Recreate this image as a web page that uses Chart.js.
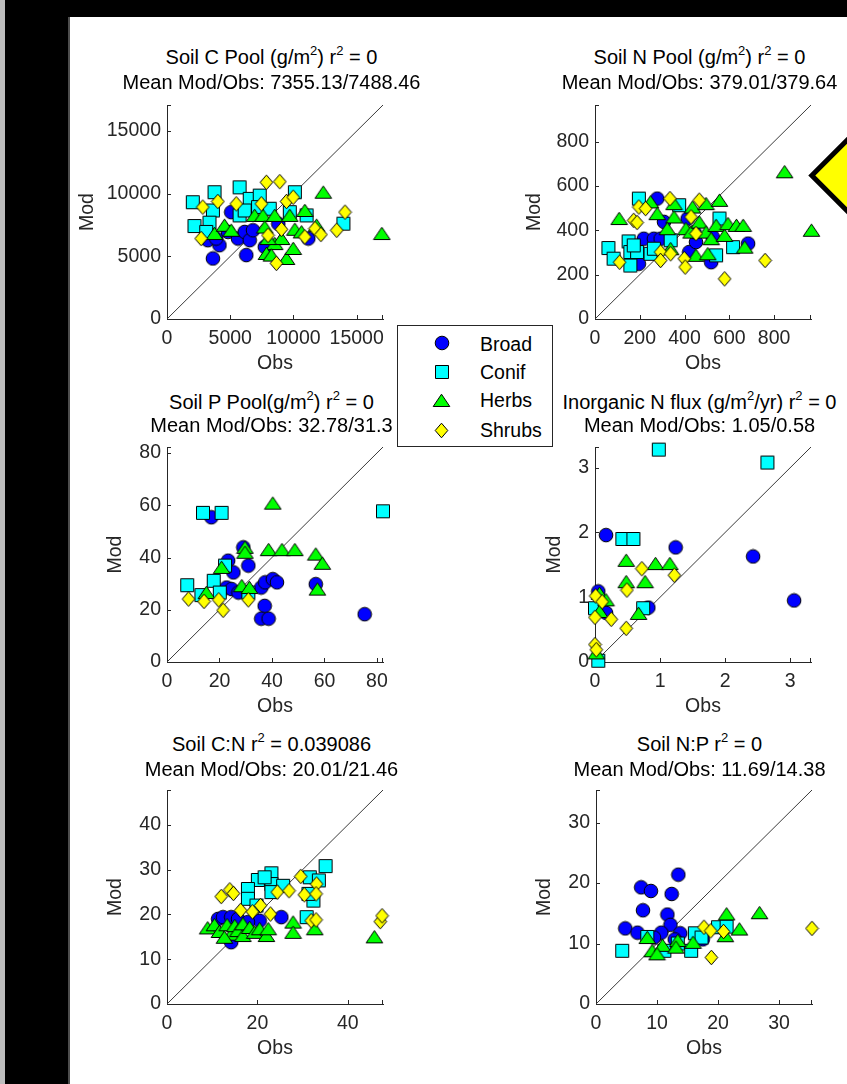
<!DOCTYPE html>
<html>
<head>
<meta charset="utf-8">
<title>Model vs observation: soil pools and ratios</title>
<script src="https://cdn.jsdelivr.net/npm/chart.js@4.4.1/dist/chart.umd.min.js"></script>
<style>
  html, body { margin:0; padding:0; }
  body { width:847px; height:1084px; background:#000; position:relative; overflow:hidden; font-family:"Liberation Sans", Arial, sans-serif; }
  #strip { position:absolute; left:0; top:0; width:5px; height:1084px; background:#bdbdbd; }
  #panel { position:absolute; left:68px; top:17px; width:779px; height:1067px; background:#fff; border-left:2px solid #4d4d4d; box-sizing:border-box; }
  canvas.plot { position:absolute; z-index:2; }
  .ttl { position:absolute; font-size:20px; line-height:24px; white-space:nowrap; color:#000; transform:translateX(-50%); z-index:3; }
  .ttl .s { position:relative; top:-9px; font-size:13px; }
  #legend { position:absolute; left:397px; top:325px; width:156px; height:122px; box-sizing:border-box; border:1px solid #262626; background:#fff; z-index:5; }
  #legend .lbl { position:absolute; left:82px; font-size:19.5px; line-height:24px; color:#000; white-space:nowrap; }
  #legend canvas { position:absolute; }
  #bigmark { position:absolute; left:780px; top:80px; z-index:4; }
</style>
</head>
<body>
<div id="strip"></div>
<div id="panel"></div>

<div class="ttl" style="left:271.5px;top:45px">Soil C Pool (g/m<span class="s">2</span>) r<span class="s">2</span> = 0</div>
<div class="ttl" style="left:271.5px;top:69.7px">Mean Mod/Obs: 7355.13/7488.46</div>
<div class="ttl" style="left:699.5px;top:45px">Soil N Pool (g/m<span class="s">2</span>) r<span class="s">2</span> = 0</div>
<div class="ttl" style="left:699.5px;top:69.7px">Mean Mod/Obs: 379.01/379.64</div>
<div class="ttl" style="left:271.5px;top:389.5px">Soil P Pool(g/m<span class="s">2</span>) r<span class="s">2</span> = 0</div>
<div class="ttl" style="left:271.5px;top:412.6px">Mean Mod/Obs: 32.78/31.3</div>
<div class="ttl" style="left:699.5px;top:389.5px">Inorganic N flux (g/m<span class="s">2</span>/yr) r<span class="s">2</span> = 0</div>
<div class="ttl" style="left:699.5px;top:412.6px">Mean Mod/Obs: 1.05/0.58</div>
<div class="ttl" style="left:271.5px;top:731.5px">Soil C:N r<span class="s">2</span> = 0.039086</div>
<div class="ttl" style="left:271.5px;top:756.5px">Mean Mod/Obs: 20.01/21.46</div>
<div class="ttl" style="left:699.5px;top:731.5px">Soil N:P r<span class="s">2</span> = 0</div>
<div class="ttl" style="left:699.5px;top:756.5px">Mean Mod/Obs: 11.69/14.38</div>

<div id="legend"></div>

<svg id="bigmark" width="67" height="200">
  <polygon points="31.8,95.5 101.8,25.5 171.8,95.5 101.8,165.5" fill="#ffff00" stroke="#000" stroke-width="5" stroke-linejoin="miter"/>
</svg>

<script>
// ---------- categories ----------
const groups = ['Broad', 'Conif', 'Herbs', 'Shrubs'];

// ---------- Soil C Pool (g/m2): [Obs, Mod] ----------
const soilC_Broad  = [[3630,4830],[3230,6290],[4150,5890],[3890,6420],[4820,6950],[5080,8530],[5610,6420],[6270,5100],[6140,6950],[6540,6290],[6800,7080],[7730,5760],[11170,6420],[8800,7600]];
const soilC_Conif  = [[2040,9320],[2170,7420],[3760,10120],[3630,8660],[3360,7690],[3100,6950],[5740,10510],[5740,8270],[6540,9590],[6140,8660],[7330,9850],[7200,8930],[8120,8800],[10110,10120],[9710,8530],[11040,8270],[13950,7610]];
const soilC_Herbs  = [[3760,6820],[4550,7480],[5080,7080],[6930,8270],[7590,8270],[7730,7340],[8520,8270],[8520,6020],[9050,6420],[7860,5230],[8250,5100],[9450,4830],[9710,8270],[10110,7160],[9980,5630],[10900,8660],[10640,6950],[11830,7480],[12360,10120],[16990,6820],[7990,6420]];
const soilC_Shrubs = [[2830,8930],[2700,6420],[4020,9380],[5480,9190],[7460,9190],[7860,10910],[8920,10960],[7990,6680],[9050,7160],[8650,4440],[9450,9380],[9980,9720],[10900,6550],[11700,7210],[12170,6740],[13420,7080],[14080,8530]];
const soilC_ticks  = [0, 5000, 10000, 15000];

// ---------- Soil N Pool (g/m2) ----------
const soilN_Broad  = [[278,543],[218,362],[263,362],[293,362],[308,438],[196,249],[414,453],[421,302],[451,347],[519,256],[526,370],[684,340],[444,392]];
const soilN_Conif  = [[60,320],[83,272],[150,350],[158,302],[158,241],[188,302],[196,543],[248,294],[263,317],[338,355],[376,513],[556,453],[541,287],[617,324],[173,332]];
const soilN_Herbs  = [[108,453],[248,528],[278,475],[353,520],[353,460],[323,407],[406,407],[429,392],[436,505],[466,437],[451,287],[496,520],[504,294],[496,392],[519,362],[556,535],[541,422],[579,377],[594,430],[632,422],[662,422],[669,324],[847,664],[967,400],[338,317]];
const soilN_Shrubs = [[110,256],[173,445],[188,435],[196,505],[226,498],[293,302],[293,264],[338,294],[335,543],[399,272],[403,234],[429,460],[451,385],[466,536],[579,181],[760,264]];
const soilN_ticks  = [0, 200, 400, 600, 800];

// ---------- Soil P Pool (g/m2) ----------
const soilP_Broad  = [[16.9,55.4],[23.3,38.8],[25.3,34.3],[22.7,28.5],[24.6,27.9],[27.2,26.6],[29.1,43.9],[31.0,36.9],[35.9,28.5],[37.4,30.5],[40.3,31.7],[41.9,30.5],[37.2,21.5],[35.9,16.6],[38.7,16.6],[56.7,29.8],[75.3,18.3]];
const soilP_Conif  = [[7.7,29.4],[13.7,57.1],[20.8,57.1],[17.8,31.1],[13.1,25.6],[20.1,26.6],[22.1,36.9],[31.0,26.6],[82.3,57.7]];
const soilP_Herbs  = [[15.0,26.6],[20.8,36.2],[29.7,43.9],[29.7,42.0],[28.5,29.2],[31.4,28.5],[40.3,60.8],[38.7,43.0],[43.8,43.0],[48.7,43.0],[56.7,41.3],[59.2,37.8],[57.3,27.9]];
const soilP_Shrubs = [[8.2,24.1],[14.1,23.2],[19.7,23.8],[21.4,19.8],[31.0,23.8]];
const soilP_ticks  = [0, 20, 40, 60, 80];

// ---------- Inorganic N flux (g/m2/yr) ----------
const inorgN_Broad  = [[0.17,1.96],[1.24,1.77],[2.43,1.63],[3.06,0.95],[0.05,1.09],[0.17,0.76],[0.82,0.84]];
const inorgN_Conif  = [[0.98,3.28],[2.65,3.08],[0.42,1.90],[0.59,1.90],[0.0,0.83],[0.74,0.83],[0.05,0.02]];
const inorgN_Herbs  = [[0.48,1.57],[0.48,1.24],[0.93,1.52],[1.15,1.52],[0.77,1.24],[0.67,0.75],[0.07,1.06],[0.17,0.96],[0.07,0.78],[0.02,0.14]];
const inorgN_Shrubs = [[0.72,1.44],[1.22,1.34],[0.49,1.11],[0.01,1.02],[0.11,0.93],[0.0,0.69],[0.25,0.66],[0.48,0.52],[0.0,0.27],[0.02,0.19]];
const inorgN_ticks  = [0, 1, 2, 3];

// ---------- Soil C:N ----------
const soilCN_Broad  = [[11.3,19.0],[12.4,19.4],[14.2,19.4],[15.7,19.0],[14.2,13.8],[20.5,18.6],[25.3,19.4],[17.9,18.3]];
const soilCN_Conif  = [[35.1,30.8],[31.6,28.3],[33.6,27.6],[23.1,29.2],[23.1,26.8],[20.1,27.7],[17.9,25.7],[17.9,23.5],[21.6,28.3],[25.7,26.4],[23.1,25.0],[32.4,23.1],[30.9,19.4],[31.3,24.6],[19.8,22.0]];
const soilCN_Herbs  = [[9.0,17.0],[10.5,17.7],[11.6,16.2],[13.3,17.7],[14.2,15.6],[15.0,17.5],[15.7,16.4],[16.8,15.3],[16.8,17.9],[18.3,17.1],[19.4,16.0],[20.5,16.8],[22.0,15.3],[22.4,16.8],[27.9,18.3],[27.9,16.0],[32.7,16.8],[45.9,15.0],[12.7,14.9]];
const soilCN_Shrubs = [[12.0,24.0],[13.9,25.5],[14.7,24.7],[16.3,20.9],[18.9,20.6],[20.7,22.0],[22.9,20.1],[24.4,25.0],[27.0,25.3],[29.6,28.5],[30.4,24.4],[33.1,26.8],[33.0,24.6],[31.9,18.6],[33.0,18.8],[47.2,18.4],[47.6,19.7]];
const soilCN_xTicks = [0, 20, 40];
const soilCN_yTicks = [0, 10, 20, 30, 40];

// ---------- Soil N:P ----------
const soilNP_Broad  = [[4.8,12.5],[6.8,11.8],[7.4,19.3],[9.0,18.7],[7.7,15.5],[12.4,18.2],[11.7,14.8],[12.2,13.1],[10.7,11.8],[13.5,21.4],[13.8,11.7],[12.9,10.7],[17.5,10.7],[9.5,11.0]];
const soilNP_Conif  = [[4.3,8.8],[8.4,11.1],[11.2,8.8],[15.6,8.8],[16.2,11.7],[17.3,11.0],[20.0,12.7],[21.4,12.8],[13.4,10.0]];
const soilNP_Herbs  = [[8.4,11.0],[9.2,8.8],[10.9,9.7],[13.4,10.5],[13.1,9.4],[15.9,10.2],[21.4,14.9],[21.2,11.3],[23.5,12.4],[26.8,15.1],[10.0,8.3]];
const soilNP_Shrubs = [[17.7,12.7],[18.8,12.1],[20.9,12.0],[18.9,7.7],[35.4,12.5]];
const soilNP_ticks  = [0, 10, 20, 30];

// ---------- styling ----------
const FONT = '"Liberation Sans", Arial, sans-serif';
const INK = '#262626';
const groupFill  = ['#0000ff', '#00ffff', '#00ff00', '#ffff00'];
const groupShape = ['circle', 'square', 'triangle', 'diamond'];

function makeMarker(shape, fill) {
  const c = document.createElement('canvas');
  const dims = {circle:[16,16], square:[16,16], triangle:[19,15], diamond:[15,17]}[shape];
  c.width = dims[0]; c.height = dims[1];
  const g = c.getContext('2d');
  g.fillStyle = fill; g.strokeStyle = '#000'; g.lineWidth = 1;
  g.beginPath();
  if (shape === 'circle') g.arc(8, 8, 6.8, 0, Math.PI * 2);
  else if (shape === 'square') g.rect(1.5, 1.5, 13, 13);
  else if (shape === 'triangle') { g.moveTo(9.5, 1.2); g.lineTo(17.8, 13.5); g.lineTo(1.2, 13.5); g.closePath(); }
  else { g.moveTo(7.5, 1.2); g.lineTo(13.8, 8.5); g.lineTo(7.5, 15.8); g.lineTo(1.2, 8.5); g.closePath(); }
  g.fill(); g.stroke();
  return c;
}
const markers = groupShape.map((s, i) => makeMarker(s, groupFill[i]));

// ---------- legend ----------
(function buildLegend() {
  const lg = document.getElementById('legend');
  const rowY = [17.3, 45.7, 74, 104];
  groups.forEach((name, i) => {
    const m = makeMarker(groupShape[i], groupFill[i]);
    m.style.left = (43.7 - m.width / 2) + 'px';
    m.style.top = (rowY[i] - m.height / 2) + 'px';
    lg.appendChild(m);
    const t = document.createElement('div');
    t.className = 'lbl';
    t.style.top = (rowY[i] - 11.8) + 'px';
    t.textContent = name;
    lg.appendChild(t);
  });
})();

// ---------- inward tick marks (MATLAB style) ----------
const inwardTicks = {
  id: 'inwardTicks',
  beforeDatasetsDraw(chart) {
    const {ctx, chartArea: a, scales: {x, y}} = chart;
    ctx.save();
    ctx.strokeStyle = INK; ctx.lineWidth = 1;
    ctx.beginPath();
    x.ticks.forEach(t => {
      if (t.value === 0) return;
      const px = Math.round(x.getPixelForValue(t.value)) + 0.5;
      ctx.moveTo(px, a.bottom); ctx.lineTo(px, a.bottom - 4);
    });
    y.ticks.forEach(t => {
      if (t.value === 0) return;
      const py = Math.round(y.getPixelForValue(t.value)) + 0.5;
      ctx.moveTo(a.left, py); ctx.lineTo(a.left + 4, py);
    });
    const ex = Math.round(x.getPixelForValue(x.max)) - 0.5;
    ctx.moveTo(ex, a.bottom); ctx.lineTo(ex, a.bottom - 4);
    const ey = Math.round(y.getPixelForValue(y.max)) + 0.5;
    ctx.moveTo(a.left, ey); ctx.lineTo(a.left + 4, ey);
    ctx.stroke();
    ctx.restore();
  }
};

// ---------- panels ----------
const AREA_W = 216, PAD_T = 20, PAD_R = 40, X_H = 56;
const plots = [
  {L:167, T:105, H:214, yW:91, max:17080, xTicks:soilC_ticks,   yTicks:soilC_ticks,   series:[soilC_Broad, soilC_Conif, soilC_Herbs, soilC_Shrubs]},
  {L:595, T:105, H:214, yW:72, max:965,   xTicks:soilN_ticks,   yTicks:soilN_ticks,   series:[soilN_Broad, soilN_Conif, soilN_Herbs, soilN_Shrubs]},
  {L:167, T:447, H:215, yW:63, max:82.3,  xTicks:soilP_ticks,   yTicks:soilP_ticks,   series:[soilP_Broad, soilP_Conif, soilP_Herbs, soilP_Shrubs]},
  {L:595, T:447, H:215, yW:52, max:3.32,  xTicks:inorgN_ticks,  yTicks:inorgN_ticks,  series:[inorgN_Broad, inorgN_Conif, inorgN_Herbs, inorgN_Shrubs]},
  {L:167, T:790, H:214, yW:63, max:47.8,  xTicks:soilCN_xTicks, yTicks:soilCN_yTicks, series:[soilCN_Broad, soilCN_Conif, soilCN_Herbs, soilCN_Shrubs]},
  {L:596, T:790, H:214, yW:63, max:35.4,  xTicks:soilNP_ticks,  yTicks:soilNP_ticks,  series:[soilNP_Broad, soilNP_Conif, soilNP_Herbs, soilNP_Shrubs]}
];

const tickFont = {family: FONT, size: 19.5};

plots.forEach(p => {
  const cv = document.createElement('canvas');
  cv.className = 'plot';
  const W = p.yW + AREA_W + PAD_R;
  const Hc = PAD_T + p.H + X_H;
  cv.width = W; cv.height = Hc;
  cv.style.width = W + 'px'; cv.style.height = Hc + 'px';
  cv.style.left = (p.L - p.yW) + 'px';
  cv.style.top = (p.T - PAD_T) + 'px';
  document.body.appendChild(cv);

  const datasets = [{
    label: '1:1',
    data: [{x: 0, y: 0}, {x: p.max, y: p.max}],
    showLine: true, borderColor: '#3a3a3a', borderWidth: 1,
    pointRadius: 0, order: 10, clip: false
  }];
  p.series.forEach((s, i) => {
    datasets.push({
      label: groups[i],
      data: s.map(v => ({x: v[0], y: v[1]})),
      pointStyle: markers[i], pointRadius: 7, borderWidth: 0,
      backgroundColor: groupFill[i], order: 4 - i, clip: false
    });
  });

  const axis = (ticksArr, isX) => ({
    type: 'linear', position: isX ? 'bottom' : 'left',
    min: 0, max: p.max,
    afterBuildTicks: sc => { sc.ticks = ticksArr.map(v => ({value: v})); },
    afterFit: sc => { if (isX) sc.height = X_H; else sc.width = p.yW; },
    grid: {display: false, drawTicks: false, tickLength: 0},
    border: {display: true, color: INK, width: 1},
    ticks: {padding: isX ? 8 : 6, color: INK, font: tickFont, autoSkip: false, maxRotation: 0, minRotation: 0, callback: v => String(v)},
    title: {display: true, text: isX ? 'Obs' : 'Mod', color: INK, font: tickFont, padding: 0}
  });

  new Chart(cv, {
    type: 'scatter',
    data: {datasets},
    options: {
      responsive: false, animation: false, events: [], devicePixelRatio: 1,
      layout: {padding: {top: PAD_T, right: PAD_R, left: 0, bottom: 0}},
      plugins: {legend: {display: false}, tooltip: {enabled: false}, title: {display: false}},
      scales: {x: axis(p.xTicks, true), y: axis(p.yTicks, false)}
    },
    plugins: [inwardTicks]
  });
});
</script>
</body>
</html>
